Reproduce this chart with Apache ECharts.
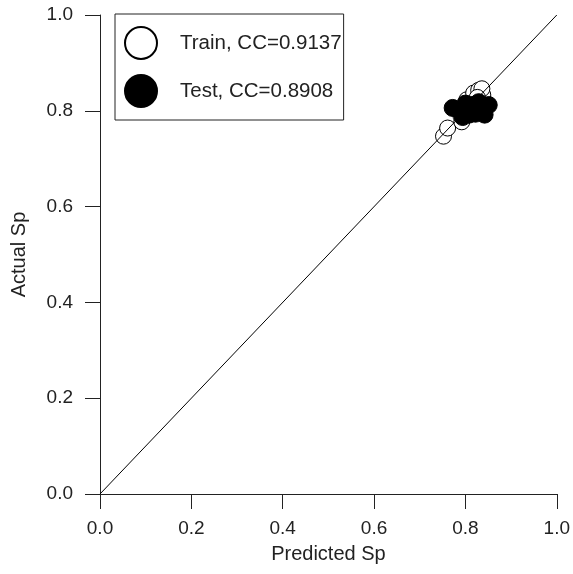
<!DOCTYPE html>
<html>
<head>
<meta charset="utf-8">
<script src="https://cdn.jsdelivr.net/npm/echarts@6/dist/echarts.min.js"></script>
<style>html,body{margin:0;padding:0;background:#fff}#c{width:573px;height:574px}</style>
</head>
<body>
<div id="c"></div>
<script>
var seriesNames = ['Train, CC=0.9137', 'Test, CC=0.8908'];
var trainPoints = [
  [0.752, 0.747], [0.761, 0.764], [0.792, 0.777], [0.803, 0.823],
  [0.818, 0.837], [0.829, 0.843], [0.838, 0.833], [0.836, 0.846],
  [0.790, 0.790], [0.826, 0.828]
];
var testPoints = [
  [0.772, 0.806], [0.785, 0.802], [0.800, 0.815], [0.811, 0.802],
  [0.829, 0.818], [0.851, 0.812], [0.794, 0.787], [0.822, 0.794],
  [0.842, 0.792], [0.840, 0.808], [0.808, 0.792], [0.830, 0.803],
  [0.815, 0.812], [0.790, 0.800]
];
var identityLine = [[0, 0], [1, 1]];
var xTitle = 'Predicted Sp';
var yTitle = 'Actual Sp';

var FONT = 'Liberation Sans, Arial, sans-serif';
var INK = '#222';
function axis(name, gap, labelMargin) {
  return {
    type: 'value', min: 0, max: 1, interval: 0.2,
    name: name, nameLocation: 'middle', nameGap: gap,
    nameTextStyle: { fontFamily: FONT, fontSize: 20, color: INK },
    axisLine: { show: true, onZero: false, lineStyle: { color: INK, width: 1 } },
    axisTick: { show: true, inside: false, length: 15, lineStyle: { color: INK, width: 1 } },
    axisLabel: { fontFamily: FONT, fontSize: 19, color: INK, margin: labelMargin,
      formatter: function (v) { return v.toFixed(1); } },
    splitLine: { show: false }
  };
}
var chart = echarts.init(document.getElementById('c'), null, { renderer: 'canvas' });
chart.setOption({
  animation: false,
  backgroundColor: '#fff',
  grid: { left: 100, top: 15, right: 16, bottom: 80, containLabel: false },
  xAxis: axis(xTitle, 50, 25),
  yAxis: axis(yTitle, 71, 27),
  legend: {
    left: 115, top: 14, orient: 'vertical',
    data: seriesNames,
    borderColor: INK, borderWidth: 1, borderRadius: 0,
    padding: [12, 2, 12, 9],
    itemWidth: 32, itemHeight: 32, itemGap: 14,
    icon: 'circle',
    textStyle: { fontFamily: FONT, fontSize: 20.5, color: INK, padding: [0, 0, 0, 18] }
  },
  series: [
    {
      name: seriesNames[0], type: 'scatter', data: trainPoints,
      symbol: 'circle', symbolSize: 16, z: 2,
      itemStyle: { color: '#fff', borderColor: '#000', borderWidth: 1, opacity: 1 }
    },
    {
      name: 'identity', type: 'line', data: identityLine, z: 3,
      symbol: 'none', lineStyle: { color: '#000', width: 1 }, silent: true
    },
    {
      name: seriesNames[1], type: 'scatter', data: testPoints,
      symbol: 'circle', symbolSize: 17, z: 4,
      itemStyle: { color: '#000', borderColor: '#000', borderWidth: 1, opacity: 1 }
    }
  ]
});
</script>
</body>
</html>
